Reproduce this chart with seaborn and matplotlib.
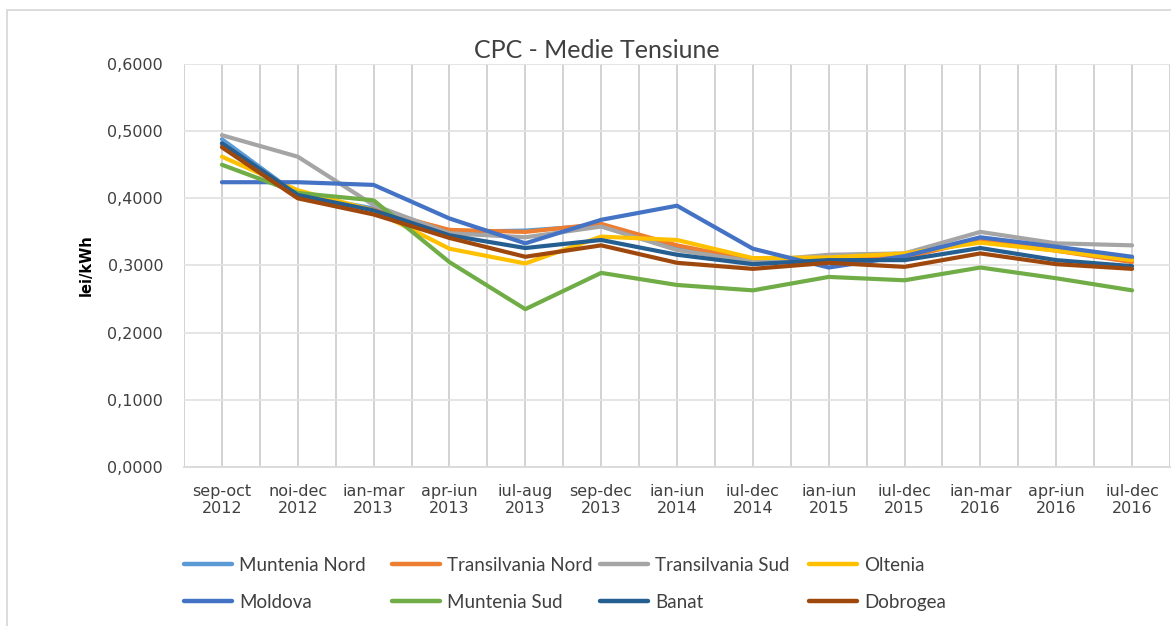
import pandas as pd
import matplotlib.pyplot as plt
import seaborn as sns
from matplotlib.ticker import FuncFormatter, MultipleLocator
from matplotlib.lines import Line2D
from matplotlib.patches import Rectangle

periods = ["sep-oct\n2012", "noi-dec\n2012", "ian-mar\n2013", "apr-iun\n2013", "iul-aug\n2013",
           "sep-dec\n2013", "ian-iun\n2014", "iul-dec\n2014", "ian-iun\n2015", "iul-dec\n2015",
           "ian-mar\n2016", "apr-iun\n2016", "iul-dec\n2016"]

muntenia_nord = [0.488, 0.405, 0.385, 0.350, 0.352, 0.360, 0.325, 0.308, 0.312, 0.312, 0.340, 0.325, 0.310]
transilvania_nord = [0.480, 0.403, 0.383, 0.353, 0.350, 0.362, 0.330, 0.308, 0.312, 0.312, 0.338, 0.322, 0.305]
transilvania_sud = [0.494, 0.462, 0.390, 0.348, 0.342, 0.358, 0.323, 0.306, 0.316, 0.318, 0.350, 0.333, 0.330]
oltenia = [0.462, 0.412, 0.382, 0.325, 0.303, 0.343, 0.338, 0.311, 0.312, 0.318, 0.334, 0.322, 0.308]
moldova = [0.424, 0.424, 0.420, 0.370, 0.333, 0.368, 0.389, 0.325, 0.297, 0.314, 0.342, 0.328, 0.313]
muntenia_sud = [0.450, 0.408, 0.397, 0.305, 0.235, 0.289, 0.271, 0.263, 0.283, 0.278, 0.297, 0.281, 0.263]
banat = [0.482, 0.405, 0.382, 0.345, 0.326, 0.338, 0.316, 0.302, 0.308, 0.308, 0.326, 0.308, 0.299]
dobrogea = [0.476, 0.400, 0.376, 0.341, 0.313, 0.330, 0.304, 0.295, 0.304, 0.298, 0.318, 0.302, 0.295]

regions = ["Muntenia Nord", "Transilvania Nord", "Transilvania Sud", "Oltenia",
           "Moldova", "Muntenia Sud", "Banat", "Dobrogea"]
series = [muntenia_nord, transilvania_nord, transilvania_sud, oltenia,
          moldova, muntenia_sud, banat, dobrogea]
colors = ["#5B9BD5", "#ED7D31", "#A5A5A5", "#FFC000", "#4472C4", "#70AD47", "#255E91", "#9E480E"]

df = pd.DataFrame({
    "perioada": periods * len(regions),
    "valoare": [v for s in series for v in s],
    "regiune": [r for r in regions for _ in periods],
})

sns.set_theme(style="white")
plt.rcParams['font.family'] = ['DejaVu Sans']

fig = plt.figure(figsize=(11.71, 6.26), dpi=100)
ax = fig.add_axes([184 / 1171, 1 - 467 / 626, 986 / 1171, 403 / 626])

sns.lineplot(data=df, x="perioada", y="valoare", hue="regiune", hue_order=regions,
             palette=dict(zip(regions, colors)), linewidth=3.0, sort=False,
             legend=False, ax=ax)

ax.set_xlim(-0.5, len(periods) - 0.5)
ax.set_ylim(0, 0.6)
ax.yaxis.set_major_locator(MultipleLocator(0.1))
ax.yaxis.set_major_formatter(FuncFormatter(lambda v, p: f"{v:.4f}".replace(".", ",")))
ax.xaxis.set_minor_locator(MultipleLocator(0.5))

ax.grid(axis="y", color="#E3E3E3", linewidth=1.3)
ax.grid(axis="x", which="both", color="#CFCFCF", linewidth=1.3)
ax.set_axisbelow(True)
for s in ["top", "right", "left"]:
    ax.spines[s].set_visible(False)
ax.spines["bottom"].set_color("#D9D9D9")
ax.spines["bottom"].set_linewidth(1.3)

ax.tick_params(axis="both", which="both", length=0, labelsize=11.5, labelcolor="#404040")
ax.tick_params(axis="y", pad=15)
ax.tick_params(axis="x", pad=12)
ax.set_xlabel("")
ax.set_ylabel("lei/kWh", fontsize=10.5, fontweight="bold", color="black", labelpad=10)

fig.text(597 / 1171, 1 - 50 / 626, "CPC - Medie Tensiune", ha="center", va="center",
         fontsize=18, color="#404040", family="Lato")

# legend: four columns, two rows each
col_x = [184, 392, 600, 809]
for c in range(4):
    handles = [Line2D([], [], color=colors[c], lw=3.2), Line2D([], [], color=colors[c + 4], lw=3.2)]
    labels = [regions[c], regions[c + 4]]
    fig.legend(handles, labels, loc="upper left", frameon=False,
               bbox_to_anchor=(col_x[c] / 1171, 1 - 557 / 626),
               borderaxespad=0, borderpad=0, handlelength=2.55, handletextpad=0.4,
               labelspacing=1.05, prop={"family": "Lato", "size": 13.5}, labelcolor="#404040")

fig.patches.append(Rectangle((7 / 1171, -0.02), 1.1, 1 - 10 / 626 + 0.02, transform=fig.transFigure,
                             fill=False, edgecolor="#D9D9D9", linewidth=1.3))

fig.savefig("out.png", dpi=100)
